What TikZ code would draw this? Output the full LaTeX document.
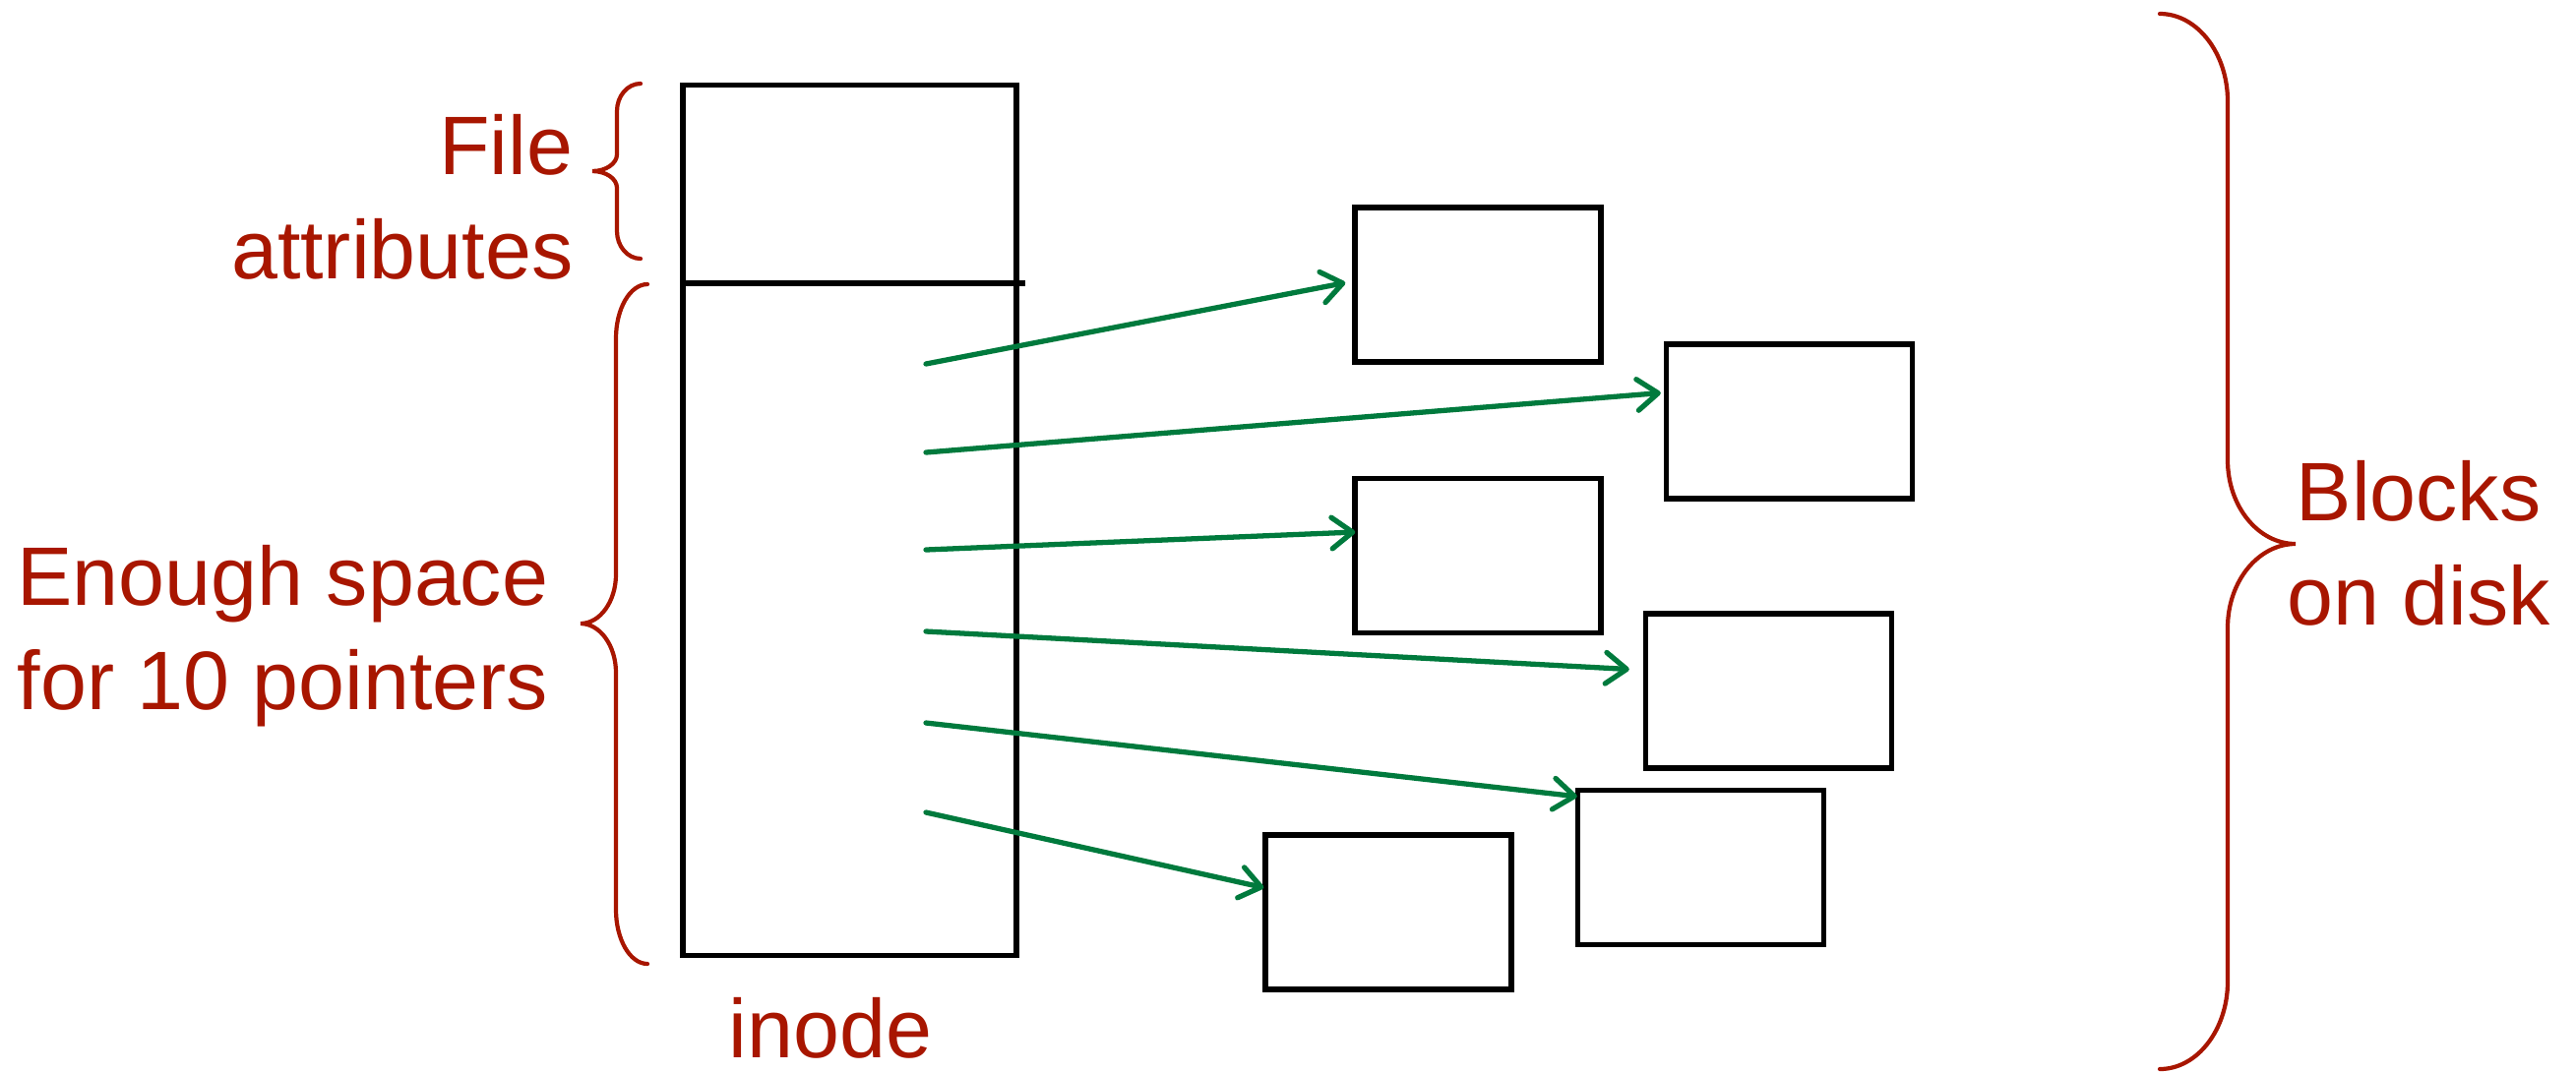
\documentclass[tikz,border=0pt]{standalone}
\usepackage{fontspec}
\setmainfont{Liberation Sans}
\usetikzlibrary{arrows.meta, positioning, calc}
\definecolor{labelred}{RGB}{168,22,0}
\definecolor{ptrgreen}{RGB}{0,122,61}

% curly brace: ends x, spine x, tip x, top y, tip y, bottom y, end curl, tip curl
\newcommand{\drawbrace}[8]{%
  \draw[curly] (#1,#4) .. controls ({#1+0.55*(#2-#1)},#4) and (#2,{#4+0.45*#7}) .. (#2,{#4+#7})
    -- (#2,{#5-#8}) .. controls (#2,{#5-0.45*#8}) and ({#3+0.55*(#2-#3)},#5) .. (#3,#5)
    .. controls ({#3+0.55*(#2-#3)},#5) and (#2,{#5+0.45*#8}) .. (#2,{#5+#8})
    -- (#2,{#6-#7}) .. controls (#2,{#6-0.45*#7}) and ({#1+0.55*(#2-#1)},#6) .. (#1,#6);}

\begin{document}
\begin{tikzpicture}[
    x=0.01cm, y=-0.01cm,
    block/.style={rectangle, draw=black, line width=1.5pt, minimum width=2.5cm, minimum height=1.57cm, inner sep=0pt},
    redtext/.style={text=labelred, font=\fontsize{24pt}{30pt}\selectfont, inner sep=0pt},
    curly/.style={draw=labelred, line width=1.2pt, line cap=round},
    ptr/.style={draw=ptrgreen, line width=1.5pt, line cap=round, -{Straight Barb[length=6pt,width=9pt,round]}}
]
    \useasboundingbox (0,0) rectangle (2618,1090);

    % the inode and its attribute area
    \node[draw, line width=1.5pt, minimum width=3.39cm, minimum height=8.84cm, inner sep=0pt] (inode) at (863.5,529) {};
    \draw[line width=1.5pt] (692,288) -- (1042,288);
    \node[redtext, anchor=base] (name) at (844,1075) {inode};

    % data blocks
    \node[block] (b1) at (1502,289.5) {};
    \node[block] (b2) at (1818.5,428.5) {};
    \node[block] (b3) at (1502,565) {};
    \node[block] (b4) at (1797.5,702.5) {};
    \node[block] (b5) at (1728.5,882) {};
    \node[block] (b6) at (1411,927.5) {};

    % pointers
    \foreach \y [count=\i] in {370,460,559,642,735,826}
        \coordinate (p\i) at (941,\y);
    \draw[ptr] (p1) -- ($(b1.west)+(-7,-2)$);
    \draw[ptr] (p2) -- ($(b2.west)+(-3,-29)$);
    \draw[ptr] (p3) -- ($(b3.west)+(3,-24)$);
    \draw[ptr] (p4) -- ($(b4.west)+(-14,-22)$);
    \draw[ptr] (p5) -- ($(b5.north west)+(2,9)$);
    \draw[ptr] (p6) -- ($(b6.west)+(1,-25)$);

    % braces and their labels
    \drawbrace{651}{627}{602}{85}{174}{263}{28}{17}
    \drawbrace{658}{626}{590}{289}{634}{980}{55}{50}
    \drawbrace{2195}{2264}{2333}{14}{553}{1087}{89}{85}

    \node[redtext, align=right, anchor=base east] (attr) at (583,283) {File\\attributes};
    \node[redtext, align=right, anchor=base east] (space) at (558,721) {Enough space\\for 10 pointers};
    \node[redtext, align=center, anchor=base] (disk) at (2458,635) {Blocks\\on disk};

\end{tikzpicture}
\end{document}
